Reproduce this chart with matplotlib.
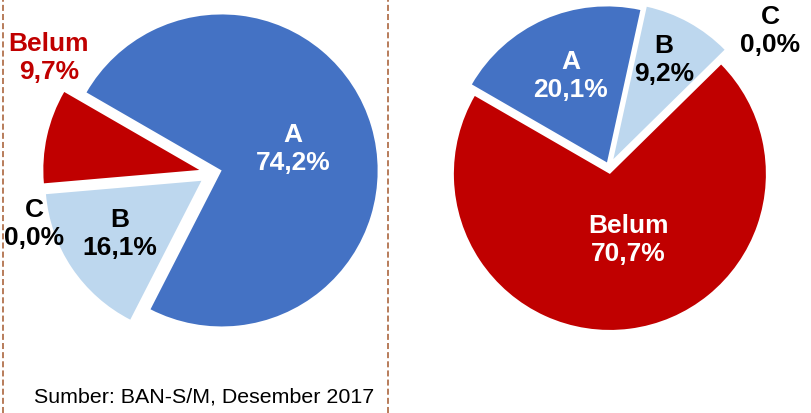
import matplotlib.pyplot as plt

plt.rcParams['font.family'] = ['Liberation Sans', 'DejaVu Sans']

# data
kategori = ['A', 'B', 'C', 'Belum']
nilai_kiri = [74.2, 16.1, 0.0, 9.7]
nilai_kanan = [20.1, 9.2, 0.0, 70.7]
warna = ['#4472C4', '#BDD7EE', '#BDD7EE', '#C00000']
sumber = 'Sumber: BAN-S/M, Desember 2017'

W, H = 811, 414
fig = plt.figure(figsize=(W / 100, H / 100), dpi=100)
ax = fig.add_axes([0, 0, 1, 1])


def fmt(v):
    return f'{v:.1f}%'.replace('.', ',')


def py(y):
    # pixel y dari atas -> koordinat data
    return H - y


# pie kiri (explode dalam satuan data / piksel)
ax.pie(nilai_kiri, colors=warna, startangle=150, counterclock=False,
       center=(213, py(174)), radius=156,
       explode=[9, 14, 0, 14],
       wedgeprops=dict(linewidth=0))

# pie kanan
ax.pie(nilai_kanan, colors=warna, startangle=150, counterclock=False,
       center=(609, py(168)), radius=156,
       explode=[5, 9, 0, 7],
       wedgeprops=dict(linewidth=0))

ax.set_xlim(0, W)
ax.set_ylim(0, H)
ax.set_aspect('equal')
ax.axis('off')

# label kiri
pos_kiri = [(293, 149, 'white'), (120, 234, 'black'), (34, 224, 'black'), (49, 58, '#C00000')]
for (x, y, c), k, v in zip(pos_kiri, kategori, nilai_kiri):
    ax.text(x, py(y), f'{k}\n{fmt(v)}', ha='center', va='center', color=c,
            fontsize=19, fontweight='bold', linespacing=1.22)

# label kanan
pos_kanan = [(571, 76, 'white'), (664, 60, 'black'), (770, 31, 'black'), (628, 240, 'white')]
for (x, y, c), k, v in zip(pos_kanan, kategori, nilai_kanan):
    ax.text(x, py(y), f'{k}\n{fmt(v)}', ha='center', va='center', color=c,
            fontsize=19, fontweight='bold', linespacing=1.22)

# garis putus-putus
for x in [2.5, 388]:
    ax.plot([x, x], [0, H], color='#B87C5A', linewidth=1.4, linestyle=(0, (3.1, 1.6)))

ax.text(204, py(397), sumber, ha='center', va='center', fontsize=15.4, color='black')

fig.savefig('out.png', dpi=100)
